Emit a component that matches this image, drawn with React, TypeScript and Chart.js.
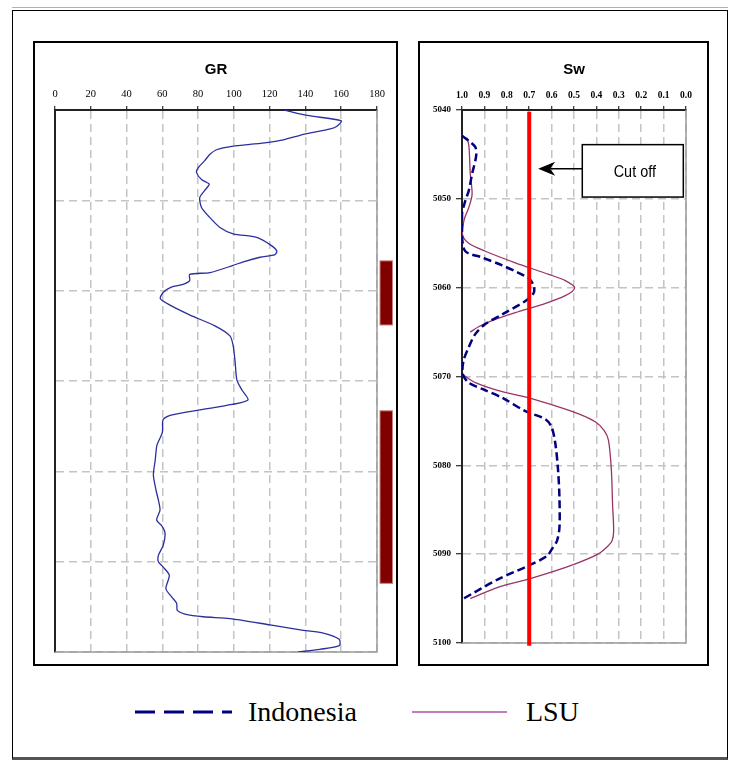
import React, { useEffect, useRef } from "react";
import { Chart, registerables } from "chart.js";
Chart.register(...registerables);

// ---------- data ----------
const depthMin = 5040;
const depthMax = 5100;
const depthStep = 10;

const grMin = 0;
const grMax = 180;
const grStep = 20;

const grDepth = [
  5040.0, 5040.6, 5041.2, 5041.8, 5042.1, 5042.7, 5043.3, 5043.6, 5043.8, 5044.0,
  5044.4, 5044.9, 5045.6, 5046.4, 5046.9, 5047.7, 5048.2, 5048.9, 5049.7, 5050.8,
  5051.7, 5053.0, 5053.7, 5054.1, 5054.9, 5055.6, 5056.0, 5056.3, 5056.8, 5057.2,
  5058.0, 5058.2, 5058.9, 5059.3, 5059.6, 5060.2, 5060.9, 5061.6, 5062.7, 5063.9,
  5065.0, 5066.0, 5067.7, 5069.9, 5071.0, 5072.1, 5072.6, 5073.2, 5073.8, 5074.3,
  5075.7, 5077.1, 5078.8, 5080.4, 5082.1, 5083.2, 5084.3, 5085.4, 5086.0, 5086.8,
  5088.2, 5089.3, 5090.0, 5090.6, 5091.5, 5093.0, 5093.9, 5094.6, 5095.4, 5095.8,
  5096.1, 5096.3, 5097.0, 5097.6, 5097.9, 5098.6, 5099.3, 5099.7, 5100.0,
];
const grValue = [
  128, 141, 160, 157.6, 153.9, 139, 127.7, 118.3, 109, 99.6,
  90.3, 86.6, 83.7, 80, 79.1, 81.9, 86.2, 83.7, 80.9, 81.9,
  85.6, 92.2, 99.6, 112.7, 120.2, 124, 123, 114.6, 105.3, 99.6,
  86.6, 75.3, 75.3, 71.6, 65, 60.4, 58.9, 64.3, 75.5, 89.4,
  97.8, 99.5, 100.6, 101.7, 104.5, 107.9, 99, 81, 64.3, 60.4,
  60, 57, 56, 55, 56.5, 57.8, 58.7, 56.8, 59.6, 61.5,
  60.5, 57.8, 57.8, 60.5, 63.9, 62, 65.2, 68, 68.4, 72.7,
  82.9, 97.8, 120.2, 138.8, 150, 158.9, 158.9, 148.1, 136,
];

// pay zones (depth intervals) marked beside the GR track
const payTop = [5056.7, 5073.3];
const payBase = [5063.8, 5092.4];

const swMin = 0;
const swMax = 1;
const swStep = 0.1;

const indoDepth = [
  5042.9, 5043.6, 5044.2, 5045.2, 5047.2, 5049.1, 5050.2, 5051.7, 5054.2, 5055.9,
  5056.6, 5057.5, 5058.3, 5059.0, 5059.8, 5060.6, 5061.5, 5063.0, 5064.1, 5065.2,
  5066.7, 5068.2, 5069.7, 5070.7, 5071.4, 5072.4, 5073.9, 5074.8, 5075.7, 5077.6,
  5080.6, 5083.6, 5087.0, 5088.5, 5089.4, 5090.2, 5091.3, 5092.8, 5095.1,
];
const indoSw = [
  1.0, 0.963, 0.94, 0.937, 0.955, 0.97, 0.985, 1.0, 1.0, 0.985,
  0.91, 0.82, 0.75, 0.70, 0.68, 0.68, 0.717, 0.82, 0.896, 0.94,
  0.97, 0.993, 0.997, 0.97, 0.91, 0.82, 0.717, 0.628, 0.60, 0.583,
  0.571, 0.565, 0.565, 0.576, 0.598, 0.62, 0.703, 0.837, 1.0,
];

const lsuDepth = [
  5043.1, 5043.9, 5044.9, 5047.2, 5049.5, 5051.0, 5052.3, 5054.0, 5055.0, 5055.9,
  5057.2, 5058.5, 5059.2, 5060.0, 5060.9, 5061.9, 5062.8, 5063.7, 5064.4, 5065.0,
  5067.5, 5069.9, 5070.7, 5071.6, 5072.4, 5073.3, 5074.2, 5075.1, 5076.1, 5077.2,
  5080.6, 5084.3, 5087.4, 5088.5, 5089.2, 5090.0, 5091.1, 5092.0, 5092.8, 5093.7,
  5095.0,
];
const lsuSw = [
  0.978, 0.97, 0.967, 0.963, 0.955, 0.97, 0.99, 0.998, 0.97, 0.896,
  0.762, 0.613, 0.539, 0.497, 0.539, 0.643, 0.762, 0.866, 0.926, 0.963,
  null, 0.99, 0.94, 0.837, 0.703, 0.583, 0.479, 0.405, 0.365, 0.346,
  0.333, 0.328, 0.323, 0.33, 0.353, 0.393, 0.494, 0.598, 0.703, 0.837,
  0.963,
];

const cutoffSw = 0.7;
const cutoffDepth = [5040.2, 5100.3];

// callout box ("Cut off") expressed in data units of the Sw track
const calloutSw = [0.463, 0.012];
const calloutDepth = [5043.9, 5049.8];
const calloutArrowSw = 0.66;
const calloutArrowDepth = 5046.6;
const calloutText = "Cut off";

const legendLabels = ["Indonesia", "LSU"];

// ---------- styles ----------
const GRID_COLOR = "#c4c4c4";
const GRID_DASH = [8, 5];
const SERIF = '"Liberation Serif", "Times New Roman", serif';
const SANS = '"Liberation Sans", Arial, sans-serif';

const framePlugin = {
  id: "frame",
  beforeDatasetsDraw(chart: any) {
    const { ctx, chartArea: a } = chart;
    ctx.save();
    ctx.strokeStyle = "#9a9a9a";
    ctx.lineWidth = 1.5;
    ctx.setLineDash([]);
    ctx.beginPath();
    ctx.moveTo(a.right, a.top);
    ctx.lineTo(a.right, a.bottom);
    ctx.lineTo(a.left, a.bottom);
    ctx.stroke();
    ctx.restore();
  },
};

const makeTitlePlugin = (text: string) => ({
  id: "trackTitle",
  afterDraw(chart: any) {
    const { ctx, chartArea: a } = chart;
    ctx.save();
    ctx.fillStyle = "#000";
    ctx.font = `bold 15px ${SANS}`;
    ctx.textAlign = "center";
    ctx.textBaseline = "middle";
    ctx.fillText(text, (a.left + a.right) / 2, 29);
    ctx.restore();
  },
});

const payPlugin = {
  id: "payZones",
  afterDraw(chart: any) {
    const { ctx, chartArea: a, scales } = chart;
    const y = scales.y;
    ctx.save();
    for (let i = 0; i < payTop.length; i++) {
      const y1 = y.getPixelForValue(payTop[i]);
      const y2 = y.getPixelForValue(payBase[i]);
      ctx.fillStyle = "#800000";
      ctx.fillRect(a.right + 3, y1, 12.5, y2 - y1);
      ctx.strokeStyle = "#c88080";
      ctx.lineWidth = 1;
      ctx.strokeRect(a.right + 3, y1, 12.5, y2 - y1);
    }
    ctx.restore();
  },
};

const calloutPlugin = {
  id: "callout",
  afterDraw(chart: any) {
    const { ctx, scales } = chart;
    const x = scales.x;
    const y = scales.y;
    const bx1 = x.getPixelForValue(calloutSw[0]);
    const bx2 = x.getPixelForValue(calloutSw[1]);
    const by1 = y.getPixelForValue(calloutDepth[0]);
    const by2 = y.getPixelForValue(calloutDepth[1]);
    ctx.save();
    ctx.setLineDash([]);
    ctx.fillStyle = "#fff";
    ctx.fillRect(bx1, by1, bx2 - bx1, by2 - by1);
    ctx.strokeStyle = "#000";
    ctx.lineWidth = 1.5;
    ctx.strokeRect(bx1, by1, bx2 - bx1, by2 - by1);
    ctx.fillStyle = "#000";
    ctx.font = `16px ${SANS}`;
    ctx.textAlign = "center";
    ctx.textBaseline = "middle";
    const cx = (bx1 + bx2) / 2 + 2;
    const cy = (by1 + by2) / 2 + 2;
    ctx.translate(cx, cy);
    ctx.scale(0.9, 1);
    ctx.fillText(calloutText, 0, 0);
    ctx.setTransform(1, 0, 0, 1, 0, 0);
    // arrow
    const ay = y.getPixelForValue(calloutArrowDepth);
    const tip = x.getPixelForValue(calloutArrowSw);
    ctx.beginPath();
    ctx.moveTo(bx1, ay);
    ctx.lineTo(tip + 12, ay);
    ctx.stroke();
    ctx.beginPath();
    ctx.moveTo(tip, ay);
    ctx.lineTo(tip + 17, ay - 7);
    ctx.lineTo(tip + 12, ay);
    ctx.lineTo(tip + 17, ay + 7);
    ctx.closePath();
    ctx.fill();
    ctx.restore();
  },
};

function GRTrack() {
  const ref = useRef<HTMLCanvasElement>(null);
  useEffect(() => {
    if (!ref.current) return;
    const chart = new Chart(ref.current, {
      type: "line",
      data: {
        datasets: [
          {
            label: "GR",
            data: grDepth.map((d, i) => ({ x: grValue[i], y: d })),
            borderColor: "#2b2f9e",
            borderWidth: 1.3,
            pointRadius: 0,
            tension: 0.25,
            fill: false,
          },
        ],
      },
      options: {
        responsive: false,
        maintainAspectRatio: false,
        animation: false,
        events: [],
        layout: { padding: { left: 22, right: 21, top: 0, bottom: 14 } },
        plugins: {
          legend: { display: false },
          tooltip: { enabled: false },
          title: { display: false },
        },
        scales: {
          x: {
            type: "linear",
            position: "top",
            min: grMin,
            max: grMax,
            ticks: {
              stepSize: grStep,
              autoSkip: false,
              maxRotation: 0,
              color: "#000",
              padding: 5,
              font: { family: SERIF, size: 10.5 },
            },
            grid: { color: GRID_COLOR, lineWidth: 1.5, tickColor: "#000", tickLength: 4, tickWidth: 1 },
            border: { color: "#222", width: 2, dash: GRID_DASH },
            afterFit: (s: any) => {
              s.height = 69;
            },
          },
          y: {
            type: "linear",
            reverse: true,
            min: depthMin,
            max: depthMax,
            ticks: { display: false, stepSize: depthStep },
            grid: { color: GRID_COLOR, lineWidth: 1.5, drawTicks: false },
            border: { color: "#222", width: 2, dash: GRID_DASH },
            afterFit: (s: any) => {
              s.width = 0;
            },
          },
        },
      } as any,
      plugins: [framePlugin, makeTitlePlugin("GR"), payPlugin],
    });
    return () => chart.destroy();
  }, []);
  return (
    <canvas
      ref={ref}
      width={365}
      height={625}
      style={{ position: "absolute", left: 33, top: 41, width: 365, height: 625 }}
    />
  );
}

function SwTrack() {
  const ref = useRef<HTMLCanvasElement>(null);
  useEffect(() => {
    if (!ref.current) return;
    const chart = new Chart(ref.current, {
      type: "line",
      data: {
        datasets: [
          {
            label: "Cut off",
            data: cutoffDepth.map((d) => ({ x: cutoffSw, y: d })),
            borderColor: "#ff0000",
            borderWidth: 4,
            pointRadius: 0,
            clip: false,
          },
          {
            label: legendLabels[0],
            data: indoDepth.map((d, i) => ({ x: indoSw[i], y: d })),
            borderColor: "#000080",
            borderWidth: 2.5,
            borderDash: [8, 4],
            pointRadius: 0,
            tension: 0.3,
            fill: false,
          },
          {
            label: legendLabels[1],
            data: lsuDepth.map((d, i) => ({ x: lsuSw[i], y: d })),
            borderColor: "#993366",
            borderWidth: 1.3,
            pointRadius: 0,
            tension: 0.3,
            spanGaps: false,
            fill: false,
          },
        ],
      },
      options: {
        responsive: false,
        maintainAspectRatio: false,
        animation: false,
        events: [],
        layout: { padding: { left: 0, right: 23, top: 0, bottom: 23 } },
        plugins: {
          legend: { display: false },
          tooltip: { enabled: false },
          title: { display: false },
        },
        scales: {
          x: {
            type: "linear",
            position: "top",
            reverse: true,
            min: swMin,
            max: swMax,
            ticks: {
              stepSize: swStep,
              autoSkip: false,
              maxRotation: 0,
              color: "#000",
              padding: 5,
              font: { family: SERIF, size: 9.5, weight: "bold" },
              callback: (v: any) => Number(v).toFixed(1),
            },
            grid: { color: GRID_COLOR, lineWidth: 1.5, tickColor: "#000", tickLength: 4, tickWidth: 1 },
            border: { color: "#222", width: 2, dash: GRID_DASH },
            afterFit: (s: any) => {
              s.height = 69;
            },
          },
          y: {
            type: "linear",
            reverse: true,
            min: depthMin,
            max: depthMax,
            ticks: {
              stepSize: depthStep,
              color: "#000",
              padding: 5,
              font: { family: SERIF, size: 9, weight: "bold" },
              callback: (v: any) => String(Math.round(Number(v))),
            },
            grid: { color: GRID_COLOR, lineWidth: 1.5, tickColor: "#000", tickLength: 6, tickWidth: 1 },
            border: { color: "#222", width: 2, dash: GRID_DASH },
            afterFit: (s: any) => {
              s.width = 44;
            },
          },
        },
      } as any,
      plugins: [framePlugin, makeTitlePlugin("Sw"), calloutPlugin],
    });
    return () => chart.destroy();
  }, []);
  return (
    <canvas
      ref={ref}
      width={291}
      height={625}
      style={{ position: "absolute", left: 418, top: 41, width: 291, height: 625 }}
    />
  );
}

export default function App() {
  const legendText: React.CSSProperties = {
    position: "absolute",
    top: 695,
    fontFamily: SERIF,
    fontSize: 28,
    lineHeight: "34px",
    color: "#000",
    whiteSpace: "nowrap",
  };
  return (
    <div style={{ position: "absolute", left: 0, top: 0, width: 729, height: 761, background: "#fff", overflow: "hidden" }}>
      {/* outer frame */}
      <div style={{ position: "absolute", left: 12, top: 7, width: 716, height: 1, background: "#b0b0b0" }} />
      <div
        style={{
          position: "absolute",
          left: 12,
          top: 10,
          width: 716,
          height: 750,
          boxSizing: "border-box",
          borderTop: "1.5px solid #000",
          borderLeft: "1.5px solid #000",
          borderRight: "1.5px solid #000",
          borderBottom: "3px solid #555",
        }}
      />
      {/* track panels */}
      <div style={{ position: "absolute", left: 33, top: 41, width: 365, height: 625, boxSizing: "border-box", border: "2px solid #000" }} />
      <div style={{ position: "absolute", left: 418, top: 41, width: 291, height: 625, boxSizing: "border-box", border: "2px solid #000" }} />
      <GRTrack />
      <SwTrack />
      {/* legend */}
      <svg style={{ position: "absolute", left: 130, top: 702, width: 400, height: 20 }} width={400} height={20}>
        <line x1={5} y1={10} x2={102} y2={10} stroke="#000080" strokeWidth={3} strokeDasharray="20 9" />
        <line x1={282} y1={10} x2={377} y2={10} stroke="#800080" strokeWidth={1.2} />
      </svg>
      <div style={{ ...legendText, left: 248 }}>{legendLabels[0]}</div>
      <div style={{ ...legendText, left: 526 }}>{legendLabels[1]}</div>
    </div>
  );
}
